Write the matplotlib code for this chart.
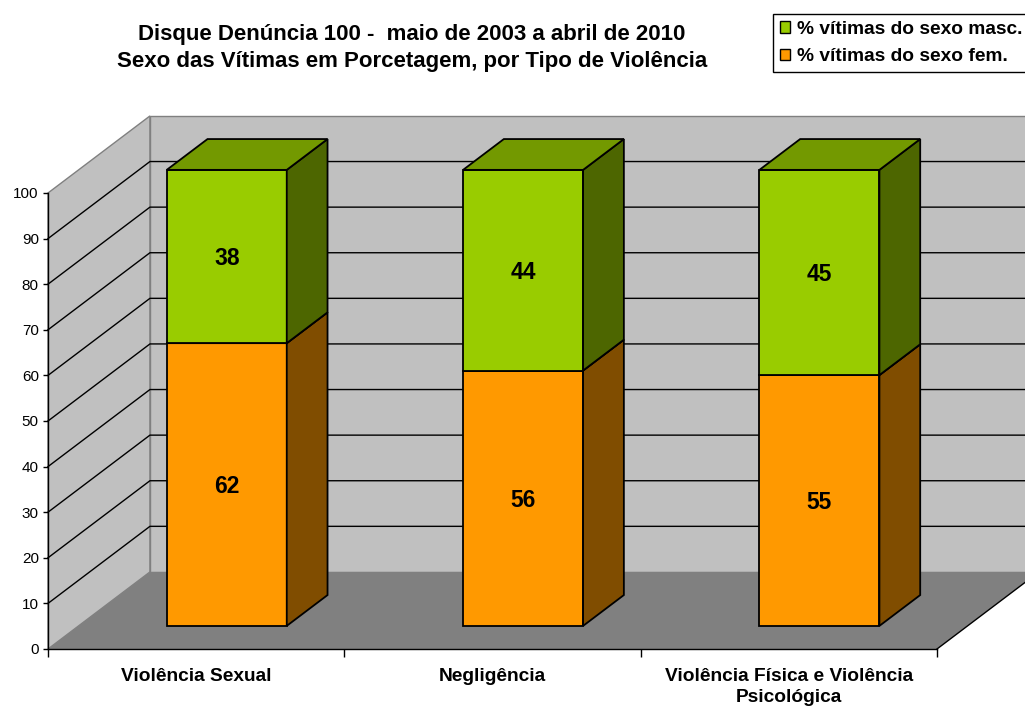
import matplotlib
matplotlib.use('Agg')
import matplotlib.pyplot as plt
from matplotlib.patches import Polygon, Patch

plt.rcParams['font.family'] = ['Liberation Sans', 'DejaVu Sans']

title = ('Disque Denúncia 100 -  maio de 2003 a abril de 2010\n'
         'Sexo das Vítimas em Porcetagem, por Tipo de Violência')
categories = ['Violência Sexual', 'Negligência',
              'Violência Física e Violência\nPsicológica']
fem = [62, 56, 55]
masc = [38, 44, 45]
series_names = ['% vítimas do sexo masc.', '% vítimas do sexo fem.']
yticks = list(range(0, 101, 10))

# colours: front, top, side
green = ['#99cc00', '#739900', '#4d6600']
orange = ['#ff9900', '#bf7300', '#804d00']

# oblique depth of the box (x in category units, y in %)
DX, DY = 0.344, 16.9
BAR_W = 0.405
D0, D1 = 0.3, 0.7


def proj(x, y, d):
    return (x + d * DX, y + d * DY)


fig = plt.figure(figsize=(10.25, 7.06), dpi=100)
ax = fig.add_axes([48 / 1025, 57 / 706, 889 / 1025, 456 / 706])
n = len(categories)
ax.set_xlim(0, n)
ax.set_ylim(0, 100)
ax.patch.set_visible(False)


def face(pts, fc, ec, z, lw=1.0):
    ax.add_patch(Polygon([proj(*p) for p in pts], closed=True, facecolor=fc,
                         edgecolor=ec, lw=lw, zorder=z, clip_on=False,
                         joinstyle='miter'))


# walls + floor
face([(0, 0, 0), (0, 100, 0), (0, 100, 1), (0, 0, 1)], '#c0c0c0', '#808080', 1)
face([(0, 0, 1), (0, 100, 1), (n, 100, 1), (n, 0, 1)], '#c0c0c0', '#808080', 1)
face([(0, 0, 0), (n, 0, 0), (n, 0, 1), (0, 0, 1)], '#808080', 'none', 1.5)
a, b = proj(n, 0, 0), proj(n, 0, 1)
ax.plot([a[0], b[0]], [a[1], b[1]], color='black', lw=1, zorder=1.6, clip_on=False)

# gridlines
for v in yticks[1:-1]:
    p0, p1, p2 = proj(0, v, 0), proj(0, v, 1), proj(n, v, 1)
    ax.plot([p0[0], p1[0], p2[0]], [p0[1], p1[1], p2[1]], color='black',
            lw=1, zorder=2, clip_on=False)

# stacked boxes
for i in range(n):
    x0 = i + 0.5 - BAR_W / 2
    x1 = x0 + BAR_W
    bottom = 0
    for vals, cols in [(fem, orange), (masc, green)]:
        top = bottom + vals[i]
        face([(x0, bottom, D0), (x1, bottom, D0), (x1, top, D0), (x0, top, D0)],
             cols[0], 'black', 3, 1.3)
        face([(x1, bottom, D0), (x1, bottom, D1), (x1, top, D1), (x1, top, D0)],
             cols[2], 'black', 3, 1.3)
        face([(x0, top, D0), (x1, top, D0), (x1, top, D1), (x0, top, D1)],
             cols[1], 'black', 3, 1.3)
        tx, ty = proj(i + 0.5, bottom + vals[i] / 2, D0)
        ax.text(tx, ty - 0.4, str(vals[i]), ha='center', va='center',
                fontsize=16.5, fontweight='bold', zorder=5)
        bottom = top

# axes
for s in ['top', 'right']:
    ax.spines[s].set_visible(False)
for s in ['left', 'bottom']:
    ax.spines[s].set_color('black')
    ax.spines[s].set_linewidth(1)
    ax.spines[s].set_zorder(2.5)
ax.set_yticks(yticks)
ax.tick_params(axis='y', direction='out', length=3.6, width=1, pad=3,
               labelsize=11)
ax.set_xticks(range(n + 1))
ax.set_xticklabels([])
ax.tick_params(axis='x', which='major', direction='out', length=5.5, width=1)
ax.set_xticks([i + 0.5 for i in range(n)], minor=True)
ax.set_xticklabels(categories, minor=True, fontweight='bold', fontsize=13.8,
                   linespacing=1.3)
ax.tick_params(axis='x', which='minor', length=0, pad=13.5)

fig.text(412 / 1025, 1 - 48 / 706, title, ha='center', va='center',
         fontsize=16, fontweight='bold', linespacing=1.4)

handles = [Patch(facecolor=green[0], edgecolor='black'),
           Patch(facecolor=orange[0], edgecolor='black')]
leg = fig.legend(handles, series_names, loc='upper left',
                 bbox_to_anchor=(773 / 1025, 1 - 14 / 706), frameon=True,
                 fancybox=False, edgecolor='black', framealpha=1,
                 borderaxespad=0, prop={'weight': 'bold', 'size': 13.8},
                 handlelength=0.55, handleheight=0.55, handletextpad=0.35,
                 labelspacing=0.55, borderpad=0.35)
leg.get_frame().set_linewidth(1)

fig.savefig('out.png', dpi=100)
